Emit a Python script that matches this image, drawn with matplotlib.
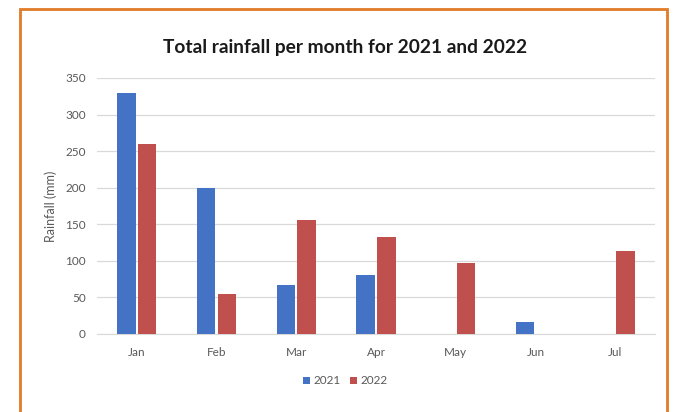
import matplotlib
matplotlib.use("Agg")
import matplotlib.pyplot as plt
import numpy as np
from matplotlib.patches import Rectangle

months = ["Jan", "Feb", "Mar", "Apr", "May", "Jun", "Jul"]
rain_2021 = [330, 200, 67, 81, 0, 16, 0]
rain_2022 = [260, 55, 156, 133, 97, 0, 114]
y_ticks = [0, 50, 100, 150, 200, 250, 300, 350]

plt.rcParams["font.family"] = ["Lato", "DejaVu Sans"]

fig = plt.figure(figsize=(6.73, 4.12), dpi=100)
fig.patch.set_facecolor("white")

# orange frame around the chart
fig.patches.append(Rectangle((20 / 673, -0.05), 647 / 673, 1 - 9 / 412 + 0.05,
                             transform=fig.transFigure, fill=False,
                             edgecolor="#E07B28", linewidth=2))

ax = fig.add_axes([97 / 673, 1 - 334 / 412, 558 / 673, 256 / 412])

x = np.arange(len(months))
w = 0.23
gap = 0.03
ax.bar(x - (w + gap) / 2, rain_2021, width=w, color="#4472C4", label="2021", zorder=3)
ax.bar(x + (w + gap) / 2, rain_2022, width=w, color="#C0504D", label="2022", zorder=3)

ax.set_xlim(-0.5, len(months) - 0.5)
ax.set_ylim(0, 350)
ax.set_yticks(y_ticks)
ax.set_xticks(x)
ax.set_xticklabels(months)
ax.tick_params(axis="both", length=0, labelsize=8.5, colors="#595959")
ax.tick_params(axis="x", pad=9)
ax.tick_params(axis="y", pad=8)
ax.yaxis.grid(True, color="#d9d9d9", linewidth=0.9, zorder=0)
for s in ["top", "right", "left"]:
    ax.spines[s].set_visible(False)
ax.spines["bottom"].set_color("#d9d9d9")

ax.set_ylabel("Rainfall (mm)", fontsize=9, color="#595959", labelpad=6)

fig.text(0.513, 1 - 47 / 412, "Total rainfall per month for 2021 and 2022",
         ha="center", va="center", fontsize=13.8, fontweight="bold", color="#1a1a1a")

leg = fig.legend(loc="center", bbox_to_anchor=(0.513, 1 - 381 / 412), ncol=2,
                 frameon=False, fontsize=8.5, handlelength=0.6, handleheight=0.6,
                 handletextpad=0.3, columnspacing=0.8)
for t in leg.get_texts():
    t.set_color("#595959")

fig.savefig("out.png", dpi=100)
